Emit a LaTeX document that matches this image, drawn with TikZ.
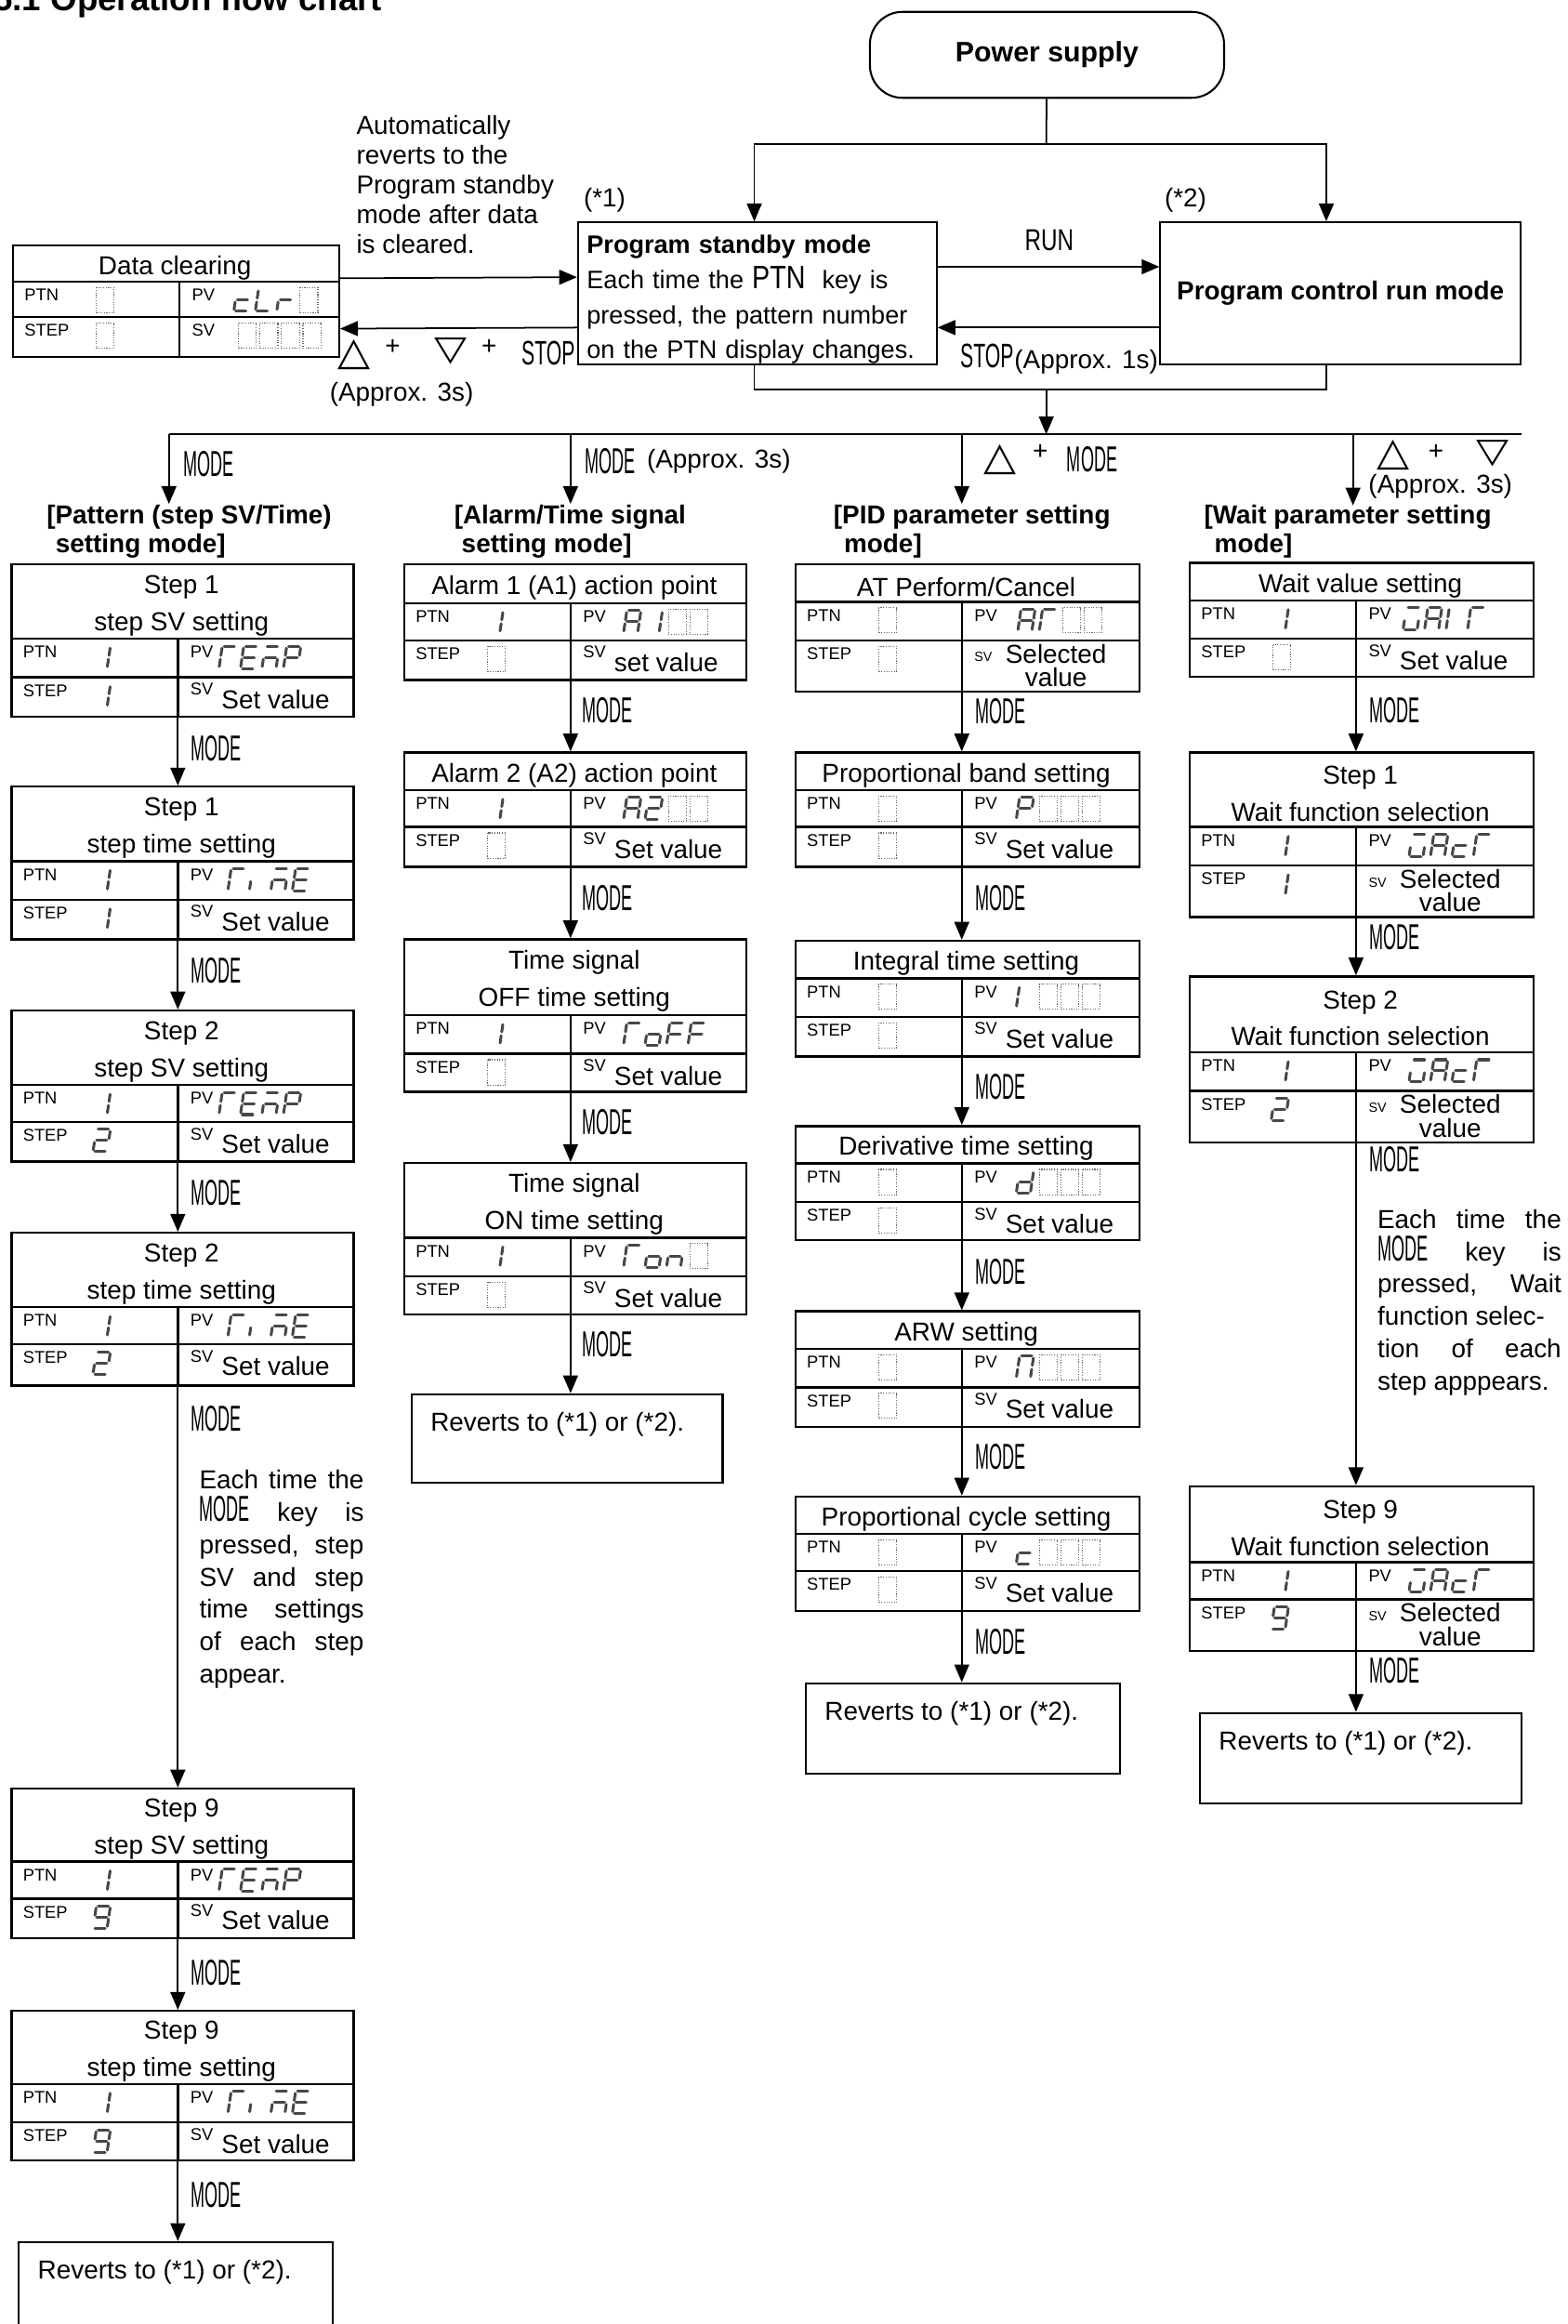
\documentclass[tikz,border=0pt]{standalone}
\usepackage{fontspec}
\setmainfont{Liberation Sans}
\newfontfamily\symfont{DejaVu Sans}
\usepackage{graphicx}
\usepackage{tikz}
\usetikzlibrary{positioning,arrows.meta}
\tikzset{every picture/.style={line width=1.1pt}}
\tikzset{
  panel/.style={draw, line width=1.5pt, inner sep=0pt},
  pline/.style={line width=1.5pt},
  modebox/.style={draw, line width=1.3pt, inner sep=0pt},
  psbox/.style={modebox, rounded corners=22pt, minimum width=239, minimum height=58, font=\bfseries\fontsize{19}{19}\selectfont},
  ttl/.style={font=\fontsize{17.5}{25}\selectfont, align=center, inner sep=0pt},
  txt/.style={font=\fontsize{17.5}{20}\selectfont, inner sep=0pt},
  lbl/.style={font=\fontsize{11.5}{12}\selectfont, inner sep=0pt, anchor=base west},
  hd/.style={font=\bfseries\fontsize{17.5}{19}\selectfont, align=left, inner sep=0pt, anchor=north west},
  note/.style={font=\fontsize{17.5}{21.8}\selectfont, align=justify, inner sep=0pt, anchor=north west},
  key/.style={inner sep=0pt},
  flow/.style={-{Triangle[length=12pt,width=10pt]}, line width=1.1pt},
  seg/.style={line width=1.9pt, black!72, line cap=round},
  blank/.style={densely dotted, line width=0.7pt, black!60},
}
% key names and arrow keys
\newcommand{\keytxt}[3]{\resizebox{#1pt}{#2pt}{#3}}
\newcommand{\modekey}{\keytxt{34}{17}{MODE}}
\newcommand{\stopkey}{\keytxt{36}{16}{STOP}}
\newcommand{\runkey}{\keytxt{33}{14}{RUN}}
\newcommand{\ptnkey}{\keytxt{36}{15}{PTN}}
\newcommand{\uptri}{\resizebox{22pt}{17pt}{\symfont △}}
\newcommand{\dntri}{\resizebox{22pt}{15pt}{\symfont ▽}}
% seven segment display
\def\sga{\draw[seg] (1.3,0) -- (8.2,0);}
\def\sgb{\draw[seg] (9.5,1.3) -- (9.5,6.2);}
\def\sgc{\draw[seg] (9.5,8.8) -- (9.5,13.7);}
\def\sgd{\draw[seg] (1.3,15) -- (8.2,15);}
\def\sge{\draw[seg] (0,8.8) -- (0,13.7);}
\def\sgf{\draw[seg] (0,1.3) -- (0,6.2);}
\def\sgg{\draw[seg] (1.3,7.5) -- (8.2,7.5);}
\def\sgx{\draw[blank, xslant=-0.15] (-1,-1) rectangle (11,16);}
\newcommand{\defchar}[2]{\expandafter\def\csname segs #1\endcsname{#2}}
\defchar{1}{b,c}
\defchar{2}{a,b,g,e,d}
\defchar{9}{a,b,c,d,f,g}
\defchar{A}{a,b,c,e,f,g}
\defchar{E}{a,f,g,e,d}
\defchar{P}{a,b,f,g,e}
\defchar{F}{a,f,g,e}
\defchar{I}{e,f}
\defchar{L}{f,e,d}
\defchar{N}{a,b,c,e,f}
\defchar{W}{a,c,d,e}
\defchar{c}{d,e,g}
\defchar{d}{b,c,d,e,g}
\defchar{i}{e}
\defchar{m}{a,g,e,c}
\defchar{n}{c,e,g}
\defchar{o}{c,d,e,g}
\defchar{r}{e,g}
\defchar{t}{a,f,e}
\defchar{X}{x}
\newcommand{\segword}[3]{%
  \foreach \ch [count=\idx from 0] in {#3} {%
    \begin{scope}[shift={(#1)}, shift={(#2+14.5*\idx,5)}, xslant=0.15]
      \edef\seglist{\csname segs \ch\endcsname}%
      \foreach \s in \seglist {\csname sg\s\endcsname}
    \end{scope}}}
% display panel: name, x, width, top, title line, mid line, bottom, title
\newcommand{\dispbox}[8]{%
  \node[panel, minimum width=#3, minimum height=#7-#4, anchor=north west] (#1) at (#2,#4) {};
  \coordinate (#1-a) at (#2,#5);
  \coordinate (#1-b) at (#2+113,#5);
  \coordinate (#1-c) at (#2,#6);
  \coordinate (#1-d) at (#2+113,#6);
  \coordinate (#1-in) at (#2+113,#4);
  \coordinate (#1-out) at (#2+113,#7);
  \draw[pline] (#1-a) -- ++(#3,0);
  \draw[pline] (#1-c) -- ++(#3,0);
  \draw[pline] (#1-b) -- (#1-out);
  \node[ttl] (#1-t) at ({#2+#3/2},{(#4+#5)/2+3}) {#8};
  \node[lbl] (#1-ptn) at ([shift={(8,13)}]#1-a) {PTN};
  \node[lbl] (#1-step) at ([shift={(8,13)}]#1-c) {STEP};
  \node[lbl] (#1-pv) at ([shift={(8,13)}]#1-b) {PV};
}
\newcommand{\setval}[2]{%
  \node[lbl] (#1-svl) at ([shift={(8,12)}]#1-d) {SV};
  \node[txt, anchor=base west] (#1-sv) at ([shift={(29,21)}]#1-d) {#2};
}
\newcommand{\selval}[1]{%
  \node[lbl, font=\fontsize{9}{9}\selectfont] (#1-svl) at ([shift={(8,14.5)}]#1-d) {SV};
  \node[txt, align=center, anchor=north west, font=\fontsize{17.5}{16}\selectfont] (#1-sv) at ([shift={(29,2)}]#1-d) {Selected\\value};
}

\begin{document}
\begin{tikzpicture}[x=1pt, y=-1pt]
\useasboundingbox (0,0) rectangle (1058,1568);
\node[font=\bfseries\fontsize{23}{23}\selectfont, inner sep=0pt, anchor=base west] (title) at (-4.7,7.3) {5.1 Operation flow chart};
%
\node[psbox] (ps) at (706.5,37) {Power supply};
\node[modebox, minimum width=242, minimum height=96, text width=230, inner xsep=6pt, align=left, font=\fontsize{17}{23.7}\selectfont] (stby) at (511,198)
  {\rule{0pt}{20.5pt}\textbf{Program standby mode}\\Each time the \ptnkey\ \ key is\\pressed, the pattern number\\on the PTN display changes.};
\node[modebox, minimum width=243, minimum height=96, font=\bfseries\fontsize{17.5}{20}\selectfont] (run) at (904.5,198) {Program control run mode};
\node[txt] (st1) at (408,135) {(*1)};
\node[txt] (st2) at (800,135) {(*2)};
\node[txt, align=left, anchor=north west] (auto) at (240,77.5) {Automatically\\reverts to the\\Program standby\\mode after data\\is cleared.};
%
\coordinate (pj) at (706,97);
\coordinate (stby-in) at ([xshift=-2]stby.north);
\coordinate (run-in) at ([xshift=-9.5]run.north);
\coordinate (stby-out) at ([xshift=-2]stby.south);
\coordinate (run-out) at ([xshift=-9.5]run.south);
\coordinate (jn) at (706,263);
\draw (ps) -- (pj);
\draw[flow] (pj) -| (stby-in);
\draw[flow] (pj) -| (run-in);
\draw (stby-out) |- (jn) -| (run-out);
\draw[flow] ([yshift=18]stby.east) -- ([yshift=18]run.west);
\draw[flow] ([yshift=-23]run.west) -- ([yshift=-23]stby.east);
\node[key] (runlbl) at (708,162) {\runkey};
\node[key] (stoplbl) at (666,240) {\stopkey};
\node[txt, anchor=west] (stoptime) at (684,244) {(Approx. 1s)};
%
\dispbox{dc}{8}{220}{165}{190}{214}{240}{Data clearing}
\segword{dc-a}{58}{X}
\segword{dc-c}{58}{X}
\segword{dc-b}{39}{c,L,r,X}
\segword{dc-d}{41}{X,X,X,X}
\node[lbl] (dc-svl) at ([shift={(8,13)}]dc-d) {SV};
\draw[flow] ([yshift=15.5]dc.east) -- ([yshift=11]stby.west);
\draw[flow] ([yshift=-23]stby.west) -- ([yshift=-18.5]dc.east);
\node[key] (tri-a) at (239,239) {\uptri};
\node[txt] (pl-a) at (265,234) {+};
\node[key] (tri-b) at (304,237) {\dntri};
\node[txt] (pl-b) at (330,234) {+};
\node[key] (stop2) at (370,238) {\stopkey};
\node[txt] (dc-time) at (271,266) {(Approx. 3s)};
%
\coordinate (bar-j) at (706,293);
\coordinate (bar-l) at (114,293);
\coordinate (bar-r) at (1027,293);
\coordinate (bar-b) at (385,293);
\coordinate (bar-c) at (649,293);
\coordinate (bar-d) at (913,293);
\coordinate (hd-a) at (114,340);
\coordinate (hd-b) at (385,340);
\coordinate (hd-c) at (649,340);
\coordinate (hd-d) at (913,341);
\draw[flow] (jn) -- (bar-j);
\draw (bar-l) -- (bar-r);
\draw[flow] (bar-l) -- (hd-a);
\draw[flow] (bar-b) -- (hd-b);
\draw[flow] (bar-c) -- (hd-c);
\draw[flow] (bar-d) -- (hd-d);
\node[key] (mk-a1) at (141,313) {\modekey};
\node[key] (mk-b1) at (412,311) {\modekey};
\node[txt, anchor=west] (tm-b) at (436,311) {(Approx. 3s)};
\node[key] (tri-c) at (675,310) {\uptri};
\node[txt] (pl-c) at (702,305) {+};
\node[key] (mk-c1) at (737,310) {\modekey};
\node[key] (tri-d) at (940,307) {\uptri};
\node[txt] (pl-d) at (969,305) {+};
\node[key] (tri-e) at (1007,306) {\dntri};
\node[txt] (tm-d) at (972,328) {(Approx. 3s)};
\node[hd] (hd-pat) at (31,340.5) {[Pattern (step SV/Time)\\\hspace*{6pt}setting mode]};
\node[hd] (hd-alm) at (306,340.5) {[Alarm/Time signal\\\hspace*{5pt}setting mode]};
\node[hd] (hd-pid) at (562,340.5) {[PID parameter setting\\\hspace*{7pt}mode]};
\node[hd] (hd-wait) at (812,340.5) {[Wait parameter setting\\\hspace*{7pt}mode]};
%
% pattern column
\dispbox{s1sv}{7}{231}{380}{431}{457}{483}{Step 1\\step SV setting}
\segword{s1sv-a}{58}{1}
\segword{s1sv-c}{58}{1}
\segword{s1sv-b}{30}{t,E,m,P}
\setval{s1sv}{Set value}
\dispbox{s1t}{7}{231}{530}{581}{607}{633}{Step 1\\step time setting}
\segword{s1t-a}{58}{1}
\segword{s1t-c}{58}{1}
\segword{s1t-b}{36}{t,i,m,E}
\setval{s1t}{Set value}
\dispbox{s2sv}{7}{231}{681}{732}{757}{783}{Step 2\\step SV setting}
\segword{s2sv-a}{58}{1}
\segword{s2sv-c}{58}{2}
\segword{s2sv-b}{30}{t,E,m,P}
\setval{s2sv}{Set value}
\dispbox{s2t}{7}{231}{831}{882}{907}{934}{Step 2\\step time setting}
\segword{s2t-a}{58}{1}
\segword{s2t-c}{58}{2}
\segword{s2t-b}{36}{t,i,m,E}
\setval{s2t}{Set value}
\dispbox{s9sv}{7}{231}{1206}{1256}{1281}{1307}{Step 9\\step SV setting}
\segword{s9sv-a}{58}{1}
\segword{s9sv-c}{58}{9}
\segword{s9sv-b}{30}{t,E,m,P}
\setval{s9sv}{Set value}
\dispbox{s9t}{7}{231}{1356}{1406}{1432}{1457}{Step 9\\step time setting}
\segword{s9t-a}{58}{1}
\segword{s9t-c}{58}{9}
\segword{s9t-b}{36}{t,i,m,E}
\setval{s9t}{Set value}
\node[modebox, minimum width=212, minimum height=70, anchor=north west] (rv-a) at (12,1512) {};
\node[txt, anchor=west] (rv-a-t) at ([shift={(13,21)}]rv-a.north west) {Reverts to (*1) or (*2).};
\draw[flow] (s1sv-out) -- (s1t-in);
\draw[flow] (s1t-out) -- (s2sv-in);
\draw[flow] (s2sv-out) -- (s2t-in);
\draw[flow] (s2t-out) -- (s9sv-in);
\draw[flow] (s9sv-out) -- (s9t-in);
\draw[flow] (s9t-out) -- (s9t-out |- rv-a.north);
\node[key] (mk-a2) at (146,505) {\modekey};
\node[key] (mk-a3) at (146,655) {\modekey};
\node[key] (mk-a4) at (146,805) {\modekey};
\node[key] (mk-a5) at (146,957) {\modekey};
\node[key] (mk-a6) at (146,1331) {\modekey};
\node[key] (mk-a7) at (146,1481) {\modekey};
\node[note, text width=111] (note-a) at (134,991.5) {Each\hfill time\hfill the\\\modekey\hfill key\hfill is\\pressed,\hfill step\\SV\hfill and\hfill step\\time\hfill settings\\of\hfill each\hfill step\\appear.};
%
% alarm column
\dispbox{al1}{272}{231}{380}{407}{432}{458}{Alarm 1 (A1) action point}
\segword{al1-a}{58}{1}
\segword{al1-c}{58}{X}
\segword{al1-b}{38}{A,1,X,X}
\setval{al1}{set value}
\dispbox{al2}{272}{231}{507}{533}{558}{584}{Alarm 2 (A2) action point}
\segword{al2-a}{58}{1}
\segword{al2-c}{58}{X}
\segword{al2-b}{38}{A,2,X,X}
\setval{al2}{Set value}
\dispbox{toff}{272}{231}{633}{685}{711}{736}{Time signal\\OFF time setting}
\segword{toff-a}{58}{1}
\segword{toff-c}{58}{X}
\segword{toff-b}{38}{t,o,F,F}
\setval{toff}{Set value}
\dispbox{ton}{272}{231}{784}{835}{861}{886}{Time signal\\ON time setting}
\segword{ton-a}{58}{1}
\segword{ton-c}{58}{X}
\segword{ton-b}{38}{t,o,n,X}
\setval{ton}{Set value}
\node[modebox, minimum width=210, minimum height=60, anchor=north west] (rv-b) at (277,940) {};
\node[txt, anchor=west] (rv-b-t) at ([shift={(13,21)}]rv-b.north west) {Reverts to (*1) or (*2).};
\draw[flow] (al1-out) -- (al2-in);
\draw[flow] (al2-out) -- (toff-in);
\draw[flow] (toff-out) -- (ton-in);
\draw[flow] (ton-out) -- (ton-out |- rv-b.north);
\node[key] (mk-b2) at (410,479) {\modekey};
\node[key] (mk-b3) at (410,606) {\modekey};
\node[key] (mk-b4) at (410,757) {\modekey};
\node[key] (mk-b5) at (410,907) {\modekey};
%
% PID column
\dispbox{atpc}{536}{232}{380}{406}{432}{466}{AT Perform/Cancel}
\segword{atpc-a}{58}{X}
\segword{atpc-c}{58}{X}
\segword{atpc-b}{40}{A,t,X,X}
\selval{atpc}
\dispbox{pb}{536}{232}{507}{533}{558}{584}{Proportional band setting}
\segword{pb-a}{58}{X}
\segword{pb-c}{58}{X}
\segword{pb-b}{39}{P,X,X,X}
\setval{pb}{Set value}
\dispbox{it}{536}{232}{634}{660}{686}{712}{Integral time setting}
\segword{it-a}{58}{X}
\segword{it-c}{58}{X}
\segword{it-b}{39}{I,X,X,X}
\setval{it}{Set value}
\dispbox{dt}{536}{232}{759}{785}{811}{836}{Derivative time setting}
\segword{dt-a}{58}{X}
\segword{dt-c}{58}{X}
\segword{dt-b}{39}{d,X,X,X}
\setval{dt}{Set value}
\dispbox{arw}{536}{232}{884}{910}{936}{962}{ARW setting}
\segword{arw-a}{58}{X}
\segword{arw-c}{58}{X}
\segword{arw-b}{39}{N,X,X,X}
\setval{arw}{Set value}
\dispbox{pc}{536}{232}{1009}{1035}{1060}{1086}{Proportional cycle setting}
\segword{pc-a}{58}{X}
\segword{pc-c}{58}{X}
\segword{pc-b}{39}{c,X,X,X}
\setval{pc}{Set value}
\node[modebox, minimum width=212, minimum height=61, anchor=north west] (rv-c) at (543,1135) {};
\node[txt, anchor=west] (rv-c-t) at ([shift={(13,21)}]rv-c.north west) {Reverts to (*1) or (*2).};
\draw[flow] (atpc-out) -- (pb-in);
\draw[flow] (pb-out) -- (it-in);
\draw[flow] (it-out) -- (dt-in);
\draw[flow] (dt-out) -- (arw-in);
\draw[flow] (arw-out) -- (pc-in);
\draw[flow] (pc-out) -- (pc-out |- rv-c.north);
\node[key] (mk-c2) at (675,480) {\modekey};
\node[key] (mk-c3) at (675,606) {\modekey};
\node[key] (mk-c4) at (675,733) {\modekey};
\node[key] (mk-c5) at (675,858) {\modekey};
\node[key] (mk-c6) at (675,983) {\modekey};
\node[key] (mk-c7) at (675,1108) {\modekey};
%
% wait column
\dispbox{wv}{802}{232}{379}{405}{431}{456}{Wait value setting}
\segword{wv-a}{58}{1}
\segword{wv-c}{58}{X}
\segword{wv-b}{34}{W,A,I,t}
\setval{wv}{Set value}
\dispbox{w1}{802}{232}{507}{558}{584}{618}{Step 1\\Wait function selection}
\segword{w1-a}{58}{1}
\segword{w1-c}{58}{1}
\segword{w1-b}{38}{W,A,c,t}
\selval{w1}
\dispbox{w2}{802}{232}{658}{710}{736}{770}{Step 2\\Wait function selection}
\segword{w2-a}{58}{1}
\segword{w2-c}{58}{2}
\segword{w2-b}{38}{W,A,c,t}
\selval{w2}
\dispbox{w9}{802}{232}{1002}{1054}{1079}{1113}{Step 9\\Wait function selection}
\segword{w9-a}{58}{1}
\segword{w9-c}{58}{9}
\segword{w9-b}{38}{W,A,c,t}
\selval{w9}
\node[modebox, minimum width=217, minimum height=61, anchor=north west] (rv-d) at (809,1155) {};
\node[txt, anchor=west] (rv-d-t) at ([shift={(13,21)}]rv-d.north west) {Reverts to (*1) or (*2).};
\draw[flow] (wv-out) -- (w1-in);
\draw[flow] (w1-out) -- (w2-in);
\draw[flow] (w2-out) -- (w9-in);
\draw[flow] (w9-out) -- (w9-out |- rv-d.north);
\node[key] (mk-d2) at (941,479) {\modekey};
\node[key] (mk-d3) at (941,632) {\modekey};
\node[key] (mk-d4) at (941,782) {\modekey};
\node[key] (mk-d5) at (941,1127) {\modekey};
\node[note, text width=124] (note-d) at (929,815.5) {Each\hfill time\hfill the\\\modekey\hfill key\hfill is\\pressed,\hfill Wait\\function selec-\\tion\hfill of\hfill each\\step apppears.};
\end{tikzpicture}
\end{document}
